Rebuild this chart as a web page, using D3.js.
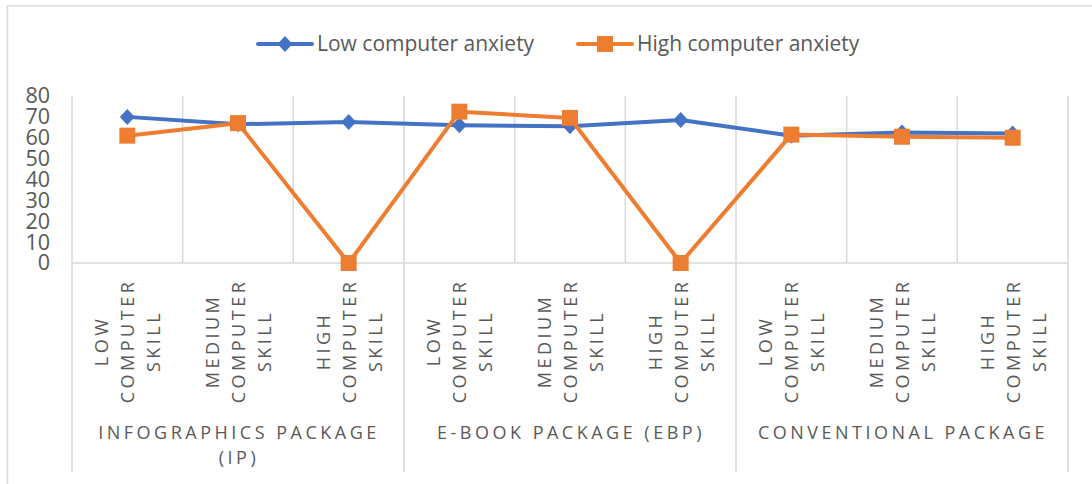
<!DOCTYPE html>
<html>
<head>
<meta charset="utf-8">
<script src="https://cdn.jsdelivr.net/npm/d3@7"></script>
<style>
  body { margin: 0; background: #fff; }
  svg { display: block; font-family: "Open Sans", sans-serif; }
</style>
</head>
<body>
<div id="chart"></div>
<script>
// Data
const skillLabels = [
  ["LOW", "COMPUTER", "SKILL"],
  ["MEDIUM", "COMPUTER", "SKILL"],
  ["HIGH", "COMPUTER", "SKILL"],
  ["LOW", "COMPUTER", "SKILL"],
  ["MEDIUM", "COMPUTER", "SKILL"],
  ["HIGH", "COMPUTER", "SKILL"],
  ["LOW", "COMPUTER", "SKILL"],
  ["MEDIUM", "COMPUTER", "SKILL"],
  ["HIGH", "COMPUTER", "SKILL"]
];
const packageLabels = [
  ["INFOGRAPHICS PACKAGE", "(IP)"],
  ["E-BOOK PACKAGE (EBP)"],
  ["CONVENTIONAL PACKAGE"]
];
const lowAnxiety = [70, 66.5, 67.5, 66, 65.5, 68.5, 61, 62.5, 62];
const highAnxiety = [61, 67, 0, 72.5, 69.5, 0, 61.5, 60.5, 60];
const yTicks = [0, 10, 20, 30, 40, 50, 60, 70, 80];

const series = [
  { name: "Low computer anxiety", values: lowAnxiety, color: "#4472C4", marker: "diamond" },
  { name: "High computer anxiety", values: highAnxiety, color: "#ED7D31", marker: "square" }
];

const width = 1092;
const height = 484;
const plot = { left: 72, right: 1068, top: 96, bottom: 263 };
const gridColor = "#D9D9D9";
const textColor = "#595959";

const svg = d3.select("#chart")
  .append("svg")
  .attr("width", width)
  .attr("height", height);

// chart border (cropped at right and bottom)
svg.append("rect")
  .attr("x", 7.5).attr("y", 6)
  .attr("width", 1200).attr("height", 600)
  .attr("fill", "none")
  .attr("stroke", gridColor)
  .attr("stroke-width", 1.5);

const x = d3.scaleBand()
  .domain(d3.range(skillLabels.length))
  .range([plot.left, plot.right])
  .padding(0);

const y = d3.scaleLinear()
  .domain([0, 80])
  .range([plot.bottom, plot.top]);

const cx = i => x(i) + x.bandwidth() / 2;

// vertical gridlines / category separators
const seps = d3.range(skillLabels.length + 1);
svg.append("g")
  .selectAll("line")
  .data(seps)
  .enter()
  .append("line")
  .attr("x1", i => i < skillLabels.length ? x(i) : plot.right)
  .attr("x2", i => i < skillLabels.length ? x(i) : plot.right)
  .attr("y1", plot.top)
  .attr("y2", i => i % 3 === 0 ? 472 : plot.bottom)
  .attr("stroke", gridColor)
  .attr("stroke-width", 1.5);

// horizontal axis line
svg.append("line")
  .attr("x1", plot.left).attr("x2", plot.right)
  .attr("y1", plot.bottom).attr("y2", plot.bottom)
  .attr("stroke", gridColor)
  .attr("stroke-width", 1.5);

// y axis
const yAxis = svg.append("g")
  .attr("transform", `translate(${plot.left}, 0)`)
  .call(d3.axisLeft(y).tickValues(yTicks).tickSize(0).tickPadding(22));
yAxis.select(".domain").remove();
yAxis.selectAll("text")
  .attr("fill", textColor)
  .style("font-size", "21.5px")
  .style("font-family", "'Open Sans', sans-serif");

// rotated skill labels
const skillG = svg.append("g");
skillLabels.forEach((lines, i) => {
  lines.forEach((line, j) => {
    const bx = cx(i) - 19 + j * 26;
    skillG.append("text")
      .attr("transform", `translate(${bx}, 341) rotate(-90)`)
      .attr("text-anchor", "middle")
      .attr("fill", textColor)
      .style("font-size", "18px")
      .style("letter-spacing", "3.5px")
      .text(line);
  });
});

// package (group) labels
packageLabels.forEach((lines, g) => {
  const gx = (x(g * 3) + (g === 2 ? plot.right : x(g * 3 + 3))) / 2;
  lines.forEach((line, j) => {
    svg.append("text")
      .attr("x", gx + 1)
      .attr("y", 439 + j * 25)
      .attr("text-anchor", "middle")
      .attr("fill", textColor)
      .style("font-size", "18px")
      .style("letter-spacing", "3.5px")
      .text(line);
  });
});

// markers
function markerPath(type) {
  if (type === "diamond") return "M0,-8L7.5,0L0,8L-7.5,0Z";
  return "M-8,-8H8V8H-8Z";
}

const line = d3.line()
  .x((d, i) => cx(i))
  .y(d => y(d));

series.forEach(s => {
  const g = svg.append("g");
  g.append("path")
    .datum(s.values)
    .attr("d", line)
    .attr("fill", "none")
    .attr("stroke", s.color)
    .attr("stroke-width", 4)
    .attr("stroke-linejoin", "round");
  g.selectAll(".pt")
    .data(s.values)
    .enter()
    .append("path")
    .attr("class", "pt")
    .attr("transform", (d, i) => `translate(${cx(i)}, ${y(d)})`)
    .attr("d", markerPath(s.marker))
    .attr("fill", s.color);
});

// legend
const legendPos = [{ x: 258, tx: 317 }, { x: 578, tx: 637 }];
series.forEach((s, i) => {
  const lg = svg.append("g");
  const lx = legendPos[i].x;
  lg.append("line")
    .attr("x1", lx).attr("x2", lx + 54)
    .attr("y1", 44).attr("y2", 44)
    .attr("stroke", s.color)
    .attr("stroke-width", 4)
    .attr("stroke-linecap", "round");
  lg.append("path")
    .attr("transform", `translate(${lx + 27}, 44)`)
    .attr("d", markerPath(s.marker))
    .attr("fill", s.color);
  lg.append("text")
    .attr("x", legendPos[i].tx)
    .attr("y", 51)
    .attr("fill", textColor)
    .style("font-size", "21px")
    .text(s.name);
});
</script>
</body>
</html>
